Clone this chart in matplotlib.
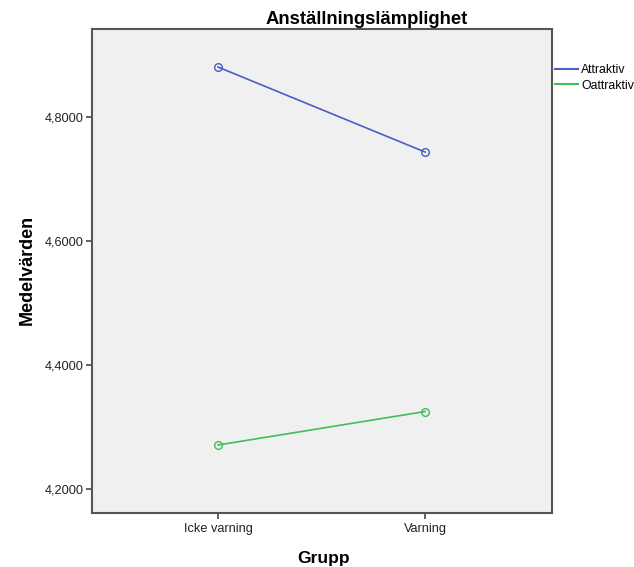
import matplotlib
matplotlib.use("Agg")
import matplotlib.pyplot as plt
from matplotlib.ticker import FuncFormatter

plt.rcParams['font.family'] = ['Liberation Sans', 'DejaVu Sans']

groups = ["Icke varning", "Varning"]
attraktiv = [4.8806, 4.7435]
oattraktiv = [4.2710, 4.3250]
yticks = [4.2, 4.4, 4.6, 4.8]

blue = "#4a5ec4"
green = "#3fbf55"
frame = "#555555"
textc = "#222222"

fig = plt.figure(figsize=(6.34, 5.67), dpi=100)
ax = fig.add_axes([92/634, 1-513/567, (552-92)/634, (513-29)/567])
ax.set_facecolor("#f0f0f0")

x = list(range(len(groups)))
ax.plot(x, attraktiv, color=blue, lw=1.2, marker='o', ms=5.5, mfc='none', mec=blue, mew=1.0, label="Attraktiv")
ax.plot(x, oattraktiv, color=green, lw=1.2, marker='o', ms=5.5, mfc='none', mec=green, mew=1.0, label="Oattraktiv")

ax.set_xlim(-0.609, 1.613)
ax.set_ylim(4.1613, 4.942)
ax.set_xticks(x)
ax.set_xticklabels(groups, fontsize=9.2, color=textc)
ax.set_yticks(yticks)
ax.yaxis.set_major_formatter(FuncFormatter(lambda v, p: f"{v:.4f}".replace('.', ',')))
ax.tick_params(axis='y', labelsize=9.2, labelcolor=textc, color=frame, length=4.5, width=1.3, direction='out', pad=1.5)
ax.tick_params(axis='x', length=4.5, width=1.3, direction='out', color=frame, pad=2.5)
for sp in ax.spines.values():
    sp.set_color(frame)
    sp.set_linewidth(1.5)

fig.text(27/634, 1-270/567, "Medelvärden", fontsize=13, fontweight='bold', ha='center', va='center', rotation=90)
fig.text(297/634, 1-563/567, "Grupp", fontsize=12.5, fontweight='bold', ha='left', va='baseline')
fig.text(266/634, 1-24/567, "Anställningslämplighet", fontsize=13.3, fontweight='bold', ha='left', va='baseline')

leg = ax.legend(loc='upper left', bbox_to_anchor=((555-92)/460, 1 - (64-29)/484), frameon=False, fontsize=8.8,
                handlelength=1.9, handletextpad=0.25, borderaxespad=0.0, labelspacing=0.3,
                borderpad=0.0)
for h in leg.get_lines():
    h.set_marker('')
    h.set_linewidth(1.5)

fig.savefig("out.png", dpi=100)
